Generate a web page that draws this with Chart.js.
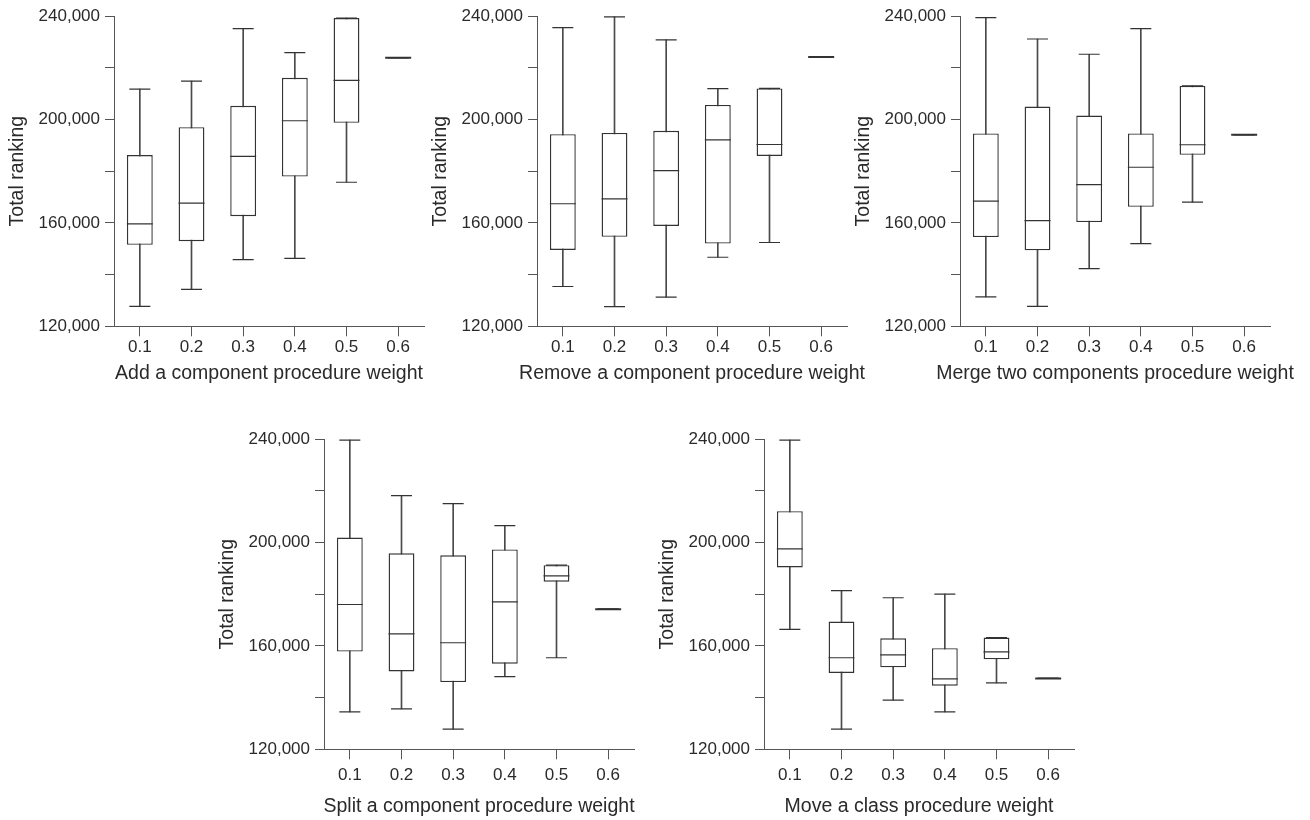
<!DOCTYPE html>
<html>
<head>
<meta charset="utf-8">
<script src="https://cdn.jsdelivr.net/npm/chart.js@4/dist/chart.umd.min.js"></script>
<style>
    body { margin: 0; background: #fff; width: 1310px; height: 820px; position: relative; overflow: hidden; }
    .panel { position: absolute; }
</style>
</head>
<body>
<div class="panel" style="left:0px;top:0px;width:538px;height:387px"><canvas id="chartAdd"></canvas></div>
<div class="panel" style="left:423px;top:0px;width:538px;height:387px"><canvas id="chartRemove"></canvas></div>
<div class="panel" style="left:846px;top:0px;width:538px;height:387px"><canvas id="chartMerge"></canvas></div>
<div class="panel" style="left:210px;top:423px;width:538px;height:397px"><canvas id="chartSplit"></canvas></div>
<div class="panel" style="left:650px;top:423px;width:538px;height:397px"><canvas id="chartMove"></canvas></div>

<script>
// Pesos (eje x)
const weights = ["0.1", "0.2", "0.3", "0.4", "0.5", "0.6"];
const yTicks = [120000, 160000, 200000, 240000];

// Add a component
const addMin = [127700, 134300, 145800, 146300, 175700, 223900];
const addQ1  = [151500, 152900, 162600, 177900, 198700, 223900];
const addMed = [159600, 167600, 185700, 199500, 215100, 223900];
const addQ3  = [186200, 197000, 205300, 216100, 239200, 223900];
const addMax = [211700, 214800, 235100, 225800, 239200, 223900];

// Remove a component
const remMin = [135400, 127600, 131300, 146700, 152400, 224100];
const remQ1  = [149500, 154600, 158800, 152000, 185900, 224100];
const remMed = [167400, 169300, 180200, 192100, 190300, 224100];
const remQ3  = [194300, 194800, 195600, 205600, 212000, 224100];
const remMax = [235500, 239700, 230800, 211900, 212000, 224100];

// Merge two components
const mrgMin = [131400, 127700, 142300, 152000, 168000, 194100];
const mrgQ1  = [154500, 149400, 160300, 166200, 186300, 194100];
const mrgMed = [168400, 160900, 174800, 181500, 190200, 194100];
const mrgQ3  = [194600, 205000, 201500, 194600, 213000, 194100];
const mrgMax = [239400, 231100, 225200, 235100, 213000, 194100];

// Split a component
const splMin = [134500, 135600, 127800, 148100, 155400, 174200];
const splQ1  = [157800, 150100, 146000, 153100, 184800, 174200];
const splMed = [176000, 164600, 161200, 177000, 187100, 174200];
const splQ3  = [201900, 195800, 195000, 197300, 191200, 174200];
const splMax = [239600, 218100, 215000, 206500, 191200, 174200];

// Move a class
const movMin = [166400, 127800, 139000, 134500, 145700, 147400];
const movQ1  = [190300, 149500, 151700, 144600, 154800, 147400];
const movMed = [197500, 155400, 156500, 147200, 157700, 147400];
const movQ3  = [212100, 169400, 162900, 159100, 163200, 147400];
const movMax = [239600, 181400, 178600, 180000, 163200, 147400];

const FONT = "'Liberation Sans', Arial, Helvetica, sans-serif";
const LINE = "#333333";
const AXIS = "#555555";
const TEXT = "#2a2a2a";

function createBoxChart(id, titulo, mins, q1s, meds, q3s, maxs, xHeight, xPad) {
    const ctx = document.getElementById(id).getContext("2d");

    return new Chart(ctx, {
        type: "bar",
        data: {
            labels: weights,
            datasets: [
                {   // caja
                    type: "bar",
                    data: q1s.map((q, i) => [q, q3s[i]]),
                    backgroundColor: "#ffffff",
                    borderColor: LINE,
                    borderWidth: 1.4,
                    borderSkipped: false,
                    barPercentage: 0.5,
                    categoryPercentage: 1,
                    grouped: false,
                    order: 2
                },
                {   // bigotes
                    type: "bar",
                    data: mins.map((m, i) => [m, maxs[i]]),
                    backgroundColor: "#4a4a4a",
                    borderWidth: 0,
                    barThickness: 1,
                    grouped: false,
                    order: 3
                },
                {   // mediana
                    type: "line",
                    data: meds,
                    showLine: false,
                    pointStyle: "line",
                    pointRadius: 13,
                    pointBorderColor: LINE,
                    pointBorderWidth: meds.map((m, i) => (q1s[i] === q3s[i] ? 2 : 1.2)),
                    order: 1
                },
                {   // tope superior
                    type: "line",
                    data: maxs,
                    showLine: false,
                    pointStyle: "line",
                    pointRadius: 10.5,
                    pointBorderColor: LINE,
                    pointBorderWidth: 1.2,
                    order: 1
                },
                {   // tope inferior
                    type: "line",
                    data: mins,
                    showLine: false,
                    pointStyle: "line",
                    pointRadius: 10.5,
                    pointBorderColor: LINE,
                    pointBorderWidth: 1.2,
                    order: 1
                }
            ]
        },
        options: {
            responsive: true,
            maintainAspectRatio: false,
            animation: false,
            events: [],
            layout: { padding: { top: 16, right: 0, left: 0, bottom: 0 } },
            plugins: {
                legend: { display: false },
                tooltip: { enabled: false },
                // titulo del eje x, centrado bajo el eje (el eje derecho vacío lo equilibra)
                title: {
                    display: true,
                    position: "bottom",
                    text: titulo,
                    color: TEXT,
                    font: { family: FONT, size: 19.5, weight: "normal" },
                    padding: { top: 2.3, bottom: 2 }
                }
            },
            scales: {
                x: {
                    type: "category",
                    offset: true,
                    grid: { display: true, drawOnChartArea: false, drawTicks: true, tickLength: 10, tickColor: AXIS, offset: false },
                    border: { display: true, color: AXIS, width: 1 },
                    ticks: { color: TEXT, font: { family: FONT, size: 17 }, padding: xPad, maxRotation: 0 },
                    afterFit: s => { s.height = xHeight; }
                },
                y: {
                    min: yTicks[0],
                    max: yTicks[yTicks.length - 1],
                    grid: { display: true, drawOnChartArea: false, drawTicks: true, tickLength: 9, tickColor: AXIS },
                    border: { display: true, color: AXIS, width: 1 },
                    ticks: {
                        stepSize: 20000,
                        color: TEXT,
                        font: { family: FONT, size: 17 },
                        padding: 5,
                        callback: v => (yTicks.includes(v) ? v.toLocaleString("en-US") : "")
                    },
                    title: { display: true, text: "Total ranking", color: TEXT, font: { family: FONT, size: 19.5 }, padding: { top: 6, bottom: 0 } },
                    afterFit: s => { s.width = 114; }
                },
                yRight: {
                    position: "right",
                    display: true,
                    min: yTicks[0],
                    max: yTicks[yTicks.length - 1],
                    grid: { display: false },
                    border: { display: false },
                    ticks: { display: false },
                    afterFit: s => { s.width = 114; }
                }
            }
        }
    });
}

createBoxChart("chartAdd", "Add a component procedure weight", addMin, addQ1, addMed, addQ3, addMax, 33, 1);
createBoxChart("chartRemove", "Remove a component procedure weight", remMin, remQ1, remMed, remQ3, remMax, 33, 1);
createBoxChart("chartMerge", "Merge two components procedure weight", mrgMin, mrgQ1, mrgMed, mrgQ3, mrgMax, 33, 1);
createBoxChart("chartSplit", "Split a component procedure weight", splMin, splQ1, splMed, splQ3, splMax, 43, 6);
createBoxChart("chartMove", "Move a class procedure weight", movMin, movQ1, movMed, movQ3, movMax, 43, 6);
</script>
</body>
</html>
